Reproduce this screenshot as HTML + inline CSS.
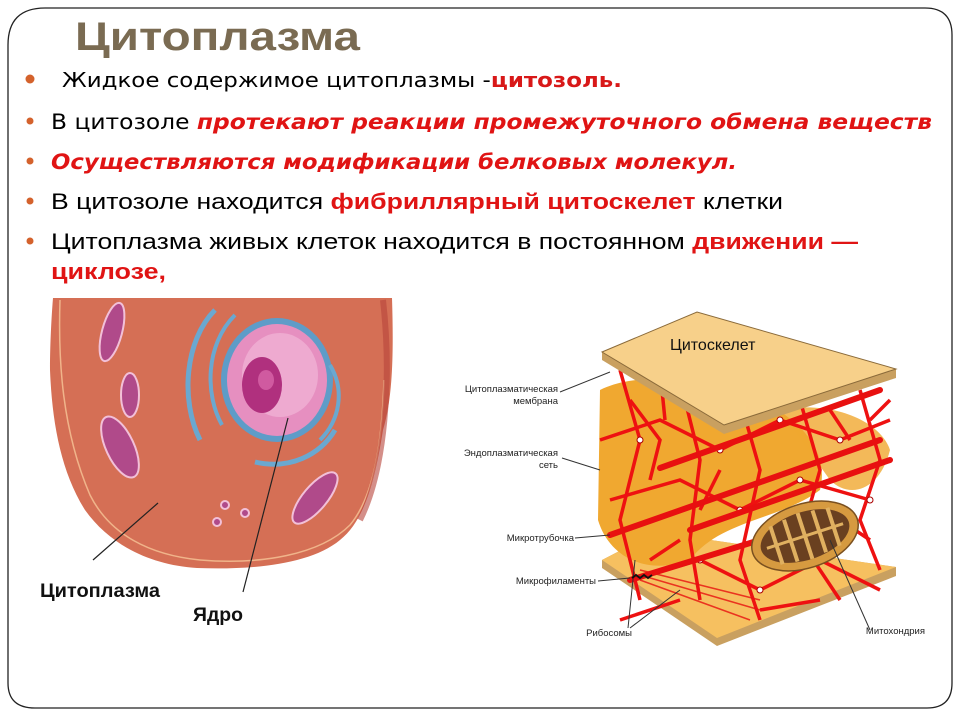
<!DOCTYPE html>
<html><head><meta charset="utf-8"><style>
html,body{margin:0;padding:0;background:#fff;width:960px;height:720px;overflow:hidden}
svg{display:block}
</style></head><body>
<svg width="960" height="720" viewBox="0 0 960 720" xmlns="http://www.w3.org/2000/svg">
<path d="M45,8 H925 Q952,8 952,35 V683 Q952,708 927,708 H35 Q8,708 8,683 V45 Q8,8 45,8 Z" fill="#fff" stroke="#222" stroke-width="1.3"/>
<text x="75" y="50" font-family="Liberation Sans, sans-serif" font-weight="bold" font-size="40" fill="#7a6b52" textLength="285" lengthAdjust="spacingAndGlyphs">Цитоплазма</text>
<g fill="#d4622c"><circle cx="30" cy="79" r="4.5"/><circle cx="30" cy="121" r="3.5"/><circle cx="30" cy="161" r="3.5"/><circle cx="30" cy="201" r="3.5"/><circle cx="30" cy="241" r="3.5"/></g>
<g font-family="DejaVu Sans, sans-serif" font-size="20">
<text x="62" y="87" textLength="560" lengthAdjust="spacingAndGlyphs">Жидкое содержимое цитоплазмы -<tspan fill="#d81818" font-weight="bold">цитозоль.</tspan></text>
<text x="51" y="129" textLength="881" lengthAdjust="spacingAndGlyphs" font-size="21">В цитозоле <tspan fill="#e01414" font-weight="bold" font-style="italic">протекают реакции промежуточного обмена веществ</tspan></text>
<text x="51" y="169" textLength="686" lengthAdjust="spacingAndGlyphs" font-size="21" fill="#e01414" font-weight="bold" font-style="italic">Осуществляются модификации белковых молекул.</text>
</g>
<g font-family="Liberation Sans, sans-serif" font-size="22">
<text x="51" y="209" textLength="732" lengthAdjust="spacingAndGlyphs">В цитозоле находится <tspan fill="#e01414" font-weight="bold">фибриллярный цитоскелет</tspan> клетки</text>
<text x="51" y="249" textLength="807" lengthAdjust="spacingAndGlyphs">Цитоплазма живых клеток находится в постоянном <tspan fill="#e01414" font-weight="bold">движении —</tspan></text>
<text x="51" y="279" textLength="115" lengthAdjust="spacingAndGlyphs" fill="#e01414" font-weight="bold">циклозе,</text>
</g>
<!-- left cell -->
<path d="M53,298 L392,298 C394,360 392,400 383,430 C375,480 365,520 340,540 C310,565 250,570 197,568 C150,565 110,545 85,510 C60,470 52,420 50,370 C50,340 52,310 53,298 Z" fill="#d56f55"/>
<path d="M60,300 C58,360 62,430 90,495 C110,535 150,555 200,560 C260,565 320,555 350,525 C375,495 382,440 384,380" fill="none" stroke="#f0b48a" stroke-width="1.5"/>
<path d="M383,300 C392,380 385,470 360,520" fill="none" stroke="#b8443a" stroke-width="6" opacity=".6"/>
<path d="M215,310 C185,340 180,400 200,440" fill="none" stroke="#6aa8d0" stroke-width="5"/>
<path d="M235,315 C205,345 205,395 222,425" fill="none" stroke="#6aa8d0" stroke-width="4"/>
<ellipse cx="277" cy="380" rx="56" ry="62" fill="#5e9cc8"/>
<ellipse cx="277" cy="380" rx="50" ry="56" fill="#e68fc0"/>
<ellipse cx="280" cy="375" rx="38" ry="42" fill="#eeaad0"/>
<ellipse cx="262" cy="385" rx="20" ry="28" fill="#b0307e"/>
<ellipse cx="266" cy="380" rx="8" ry="10" fill="#d05aa0"/>
<path d="M255,462 C290,470 320,455 335,430" fill="none" stroke="#6aa8d0" stroke-width="5"/>
<path d="M330,365 C345,390 340,420 320,440" fill="none" stroke="#6aa8d0" stroke-width="4"/>
<g fill="#b04a8a" stroke="#f2c0d8" stroke-width="2">
<ellipse cx="112" cy="332" rx="10" ry="30" transform="rotate(15 112 332)"/>
<ellipse cx="130" cy="395" rx="9" ry="22"/>
<ellipse cx="120" cy="447" rx="14" ry="33" transform="rotate(-25 120 447)"/>
<ellipse cx="315" cy="498" rx="12" ry="32" transform="rotate(40 315 498)"/>
<circle cx="225" cy="505" r="4"/><circle cx="245" cy="513" r="4"/><circle cx="217" cy="522" r="4"/>
</g>
<g stroke="#222" stroke-width="1.2"><line x1="93" y1="560" x2="158" y2="503"/><line x1="243" y1="592" x2="288" y2="418"/></g>
<g font-family="Liberation Sans, sans-serif" font-weight="bold" font-size="19" fill="#111">
<text x="40" y="597" textLength="120" lengthAdjust="spacingAndGlyphs">Цитоплазма</text>
<text x="193" y="621" textLength="50" lengthAdjust="spacingAndGlyphs">Ядро</text>
</g>
<!-- right cytoskeleton -->
<polygon points="602,560 656,532 896,567 896,576 717,646 602,568" fill="#c9a060"/>
<polygon points="602,560 656,532 896,567 717,638" fill="#f6c060"/>
<path d="M600,390 C640,370 700,380 760,400 C800,420 830,450 820,490 C780,520 720,520 690,560 C650,575 610,560 598,520 Z" fill="#f0a830"/>
<path d="M780,410 C830,400 880,420 890,450 C880,490 850,500 830,480 Z" fill="#f0a830" opacity=".8"/>
<g stroke="#e11" stroke-width="3.5" fill="none">
<path d="M620,370 L640,440 L620,520 L640,600 M660,370 L665,420 M680,380 L700,460 L690,540 L700,600 M740,400 L760,470 L740,560 L760,620 M800,400 L820,470 L800,540 L840,600 M860,390 L880,460 L860,520 L880,570 M890,400 L870,420"/>
<path d="M600,440 L660,420 L720,450 L780,420 L840,440 L890,420 M610,500 L680,480 L740,510 L800,480 L870,500 M630,580 L700,560 L760,590 L820,560 L880,590 M620,620 L680,600 M760,610 L820,600"/>
<path d="M630,400 L660,440 L650,480 M720,470 L700,510 M830,410 L850,440 M840,520 L870,540 M650,560 L680,540"/>
</g>
<g fill="#fff" stroke="#a00" stroke-width="1">
<circle cx="720" cy="450" r="3"/><circle cx="780" cy="420" r="3"/><circle cx="840" cy="440" r="3"/><circle cx="740" cy="510" r="3"/><circle cx="800" cy="480" r="3"/><circle cx="700" cy="560" r="3"/><circle cx="760" cy="590" r="3"/><circle cx="640" cy="440" r="3"/><circle cx="870" cy="500" r="3"/>
</g>
<g stroke="#e81010" stroke-width="6" stroke-linecap="round">
<line x1="610" y1="535" x2="880" y2="440"/>
<line x1="660" y1="468" x2="880" y2="390"/>
<line x1="690" y1="530" x2="890" y2="460"/>
<line x1="630" y1="580" x2="760" y2="540"/>
</g>
<g stroke="#e81010" stroke-width="1.5" opacity=".8"><line x1="640" y1="570" x2="760" y2="600"/><line x1="640" y1="575" x2="760" y2="610"/><line x1="640" y1="580" x2="750" y2="620"/></g>
<g transform="rotate(-18 805 536)">
<ellipse cx="805" cy="536" rx="55" ry="32" fill="#d69a40" stroke="#7a5020" stroke-width="1.5"/>
<ellipse cx="805" cy="536" rx="46" ry="24" fill="#6a4020"/>
<path d="M765,536 h80" stroke="#e0b060" stroke-width="3"/>
<path d="M775,516 v40 M790,514 v44 M805,512 v48 M820,514 v44 M835,516 v40" stroke="#e0b060" stroke-width="4"/>
</g>
<polygon points="602,352 697,312 896,369 896,378 724,434 602,360" fill="#c9a060"/>
<polygon points="602,352 697,312 896,369 724,425" fill="#f7d08a" stroke="#8a6a3a" stroke-width="1"/>
<text x="670" y="350" font-family="Liberation Sans, sans-serif" font-size="16" fill="#111">Цитоскелет</text>
<g stroke="#333" stroke-width="1" fill="none">
<path d="M560,392 L610,372 M562,458 L600,470 M575,538 L610,535 M598,581 L630,578 M628,628 L635,560 M630,628 L680,590 M870,630 L830,540"/>
</g>
<path d="M632,578 l4,-3 4,3 4,-3 4,3 4,-3" stroke="#111" stroke-width="2" fill="none"/>
<g font-family="Liberation Sans, sans-serif" font-size="9.5" fill="#222" text-anchor="end">
<text x="558" y="392">Цитоплазматическая</text>
<text x="558" y="404">мембрана</text>
<text x="558" y="456">Эндоплазматическая</text>
<text x="558" y="468">сеть</text>
<text x="574" y="541">Микротрубочка</text>
<text x="596" y="584">Микрофиламенты</text>
<text x="632" y="636">Рибосомы</text>
<text x="925" y="634">Митохондрия</text>
</g>
</svg>
</body></html>
